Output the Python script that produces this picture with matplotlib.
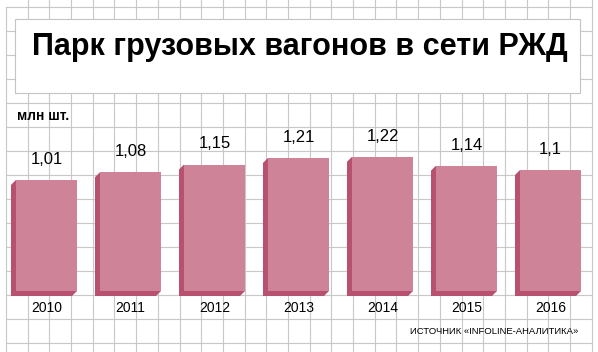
import matplotlib
matplotlib.use("Agg")
import matplotlib.pyplot as plt
from matplotlib.patches import Rectangle, Polygon

# data
years = ["2010", "2011", "2012", "2013", "2014", "2015", "2016"]
wagons = [1.01, 1.08, 1.15, 1.21, 1.22, 1.14, 1.1]

title = "Парк грузовых вагонов в сети РЖД"
unit = "млн шт."
source = "ИСТОЧНИК «INFOLINE-АНАЛИТИКА»"

front_col = "#CE8399"
side_col = "#B8506F"
grid_col = "#C8C8C8"

W, H = 598, 352
fig = plt.figure(figsize=(W / 100, H / 100), dpi=100)

# background: squared paper + title box, in pixel units
bg = fig.add_axes([0, 0, 1, 1])
bg.set_xlim(0, W)
bg.set_ylim(H, 0)
bg.axis("off")

step_x = (570 - 6) / 26
x = 6
while x < 593:
    bg.plot([x, x], [0 if x > 10 else 7, H], color=grid_col, lw=0.8, zorder=1)
    x += step_x
y = 7
while y < 346:
    bg.plot([6, 591], [y, y], color=grid_col, lw=0.8, zorder=1)
    y += 24

bg.add_patch(Rectangle((15, 19), 565, 74, facecolor="white",
                       edgecolor="#C4C4C4", lw=0.8, zorder=2))
bg.text(299.5, 55, title, ha="center", va="baseline", fontsize=22,
        fontweight="bold", family="Liberation Sans", zorder=3)
bg.text(17, 116, unit, ha="left", va="center", fontsize=10,
        fontweight="bold", family="Liberation Sans", zorder=3)
bg.text(578, 332, source, ha="right", va="center", fontsize=6.8,
        family="Liberation Sans", zorder=3)

# bars, 84 px apart, 110 px per unit, baseline at 291 px from top
px_x, px_y = 84, 110
ax = fig.add_axes([0, 0, 1, 1])
ax.set_xlim(-46.5 / px_x, (W - 46.5) / px_x)
ax.set_ylim(-(H - 291) / px_y, 291 / px_y)
ax.patch.set_visible(False)
ax.axis("off")

w = 61 / px_x
dx, dy = 5 / px_x, 5 / px_y
pos = list(range(len(years)))
for i, v in zip(pos, wagons):
    x0, x1 = i - w / 2, i + w / 2
    ax.add_patch(Polygon([(x0, v), (x0 - dx, v - dy), (x0 - dx, -dy),
                          (x1 - dx, -dy), (x1, 0), (x0, 0)],
                         closed=True, facecolor=side_col, edgecolor="none",
                         zorder=2))
ax.bar(pos, wagons, width=w, color=front_col, zorder=3)

for i, v in zip(pos, wagons):
    ax.text(i, v + 16 / px_y, f"{v:g}".replace(".", ","), ha="center",
            va="baseline", fontsize=12, family="Liberation Sans", zorder=4)
for i, yr in zip(pos, years):
    ax.text(i, -17 / px_y, yr, ha="center", va="center", fontsize=10,
            family="Liberation Sans", zorder=4)

fig.savefig("out.png", dpi=100)
